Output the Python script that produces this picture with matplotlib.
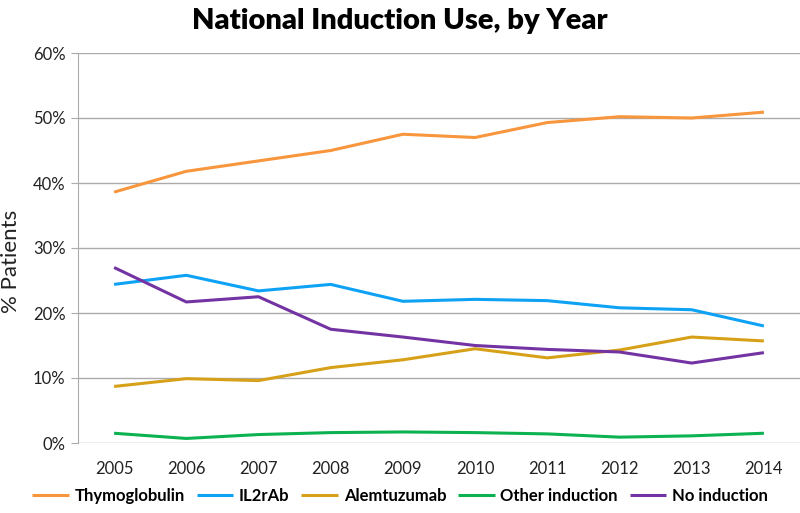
import matplotlib
matplotlib.use("Agg")
import matplotlib.pyplot as plt
from matplotlib.ticker import PercentFormatter

# data (% of patients)
years = ["2005", "2006", "2007", "2008", "2009", "2010", "2011", "2012", "2013", "2014"]
thymoglobulin = [38.6, 41.8, 43.4, 45.0, 47.5, 47.0, 49.3, 50.2, 50.0, 50.9]
il2rab = [24.4, 25.8, 23.4, 24.4, 21.8, 22.1, 21.9, 20.8, 20.5, 18.0]
alemtuzumab = [8.7, 9.9, 9.6, 11.6, 12.8, 14.5, 13.1, 14.3, 16.3, 15.7]
other_induction = [1.5, 0.7, 1.3, 1.6, 1.7, 1.6, 1.4, 0.9, 1.1, 1.5]
no_induction = [27.0, 21.7, 22.5, 17.5, 16.3, 15.0, 14.4, 14.0, 12.3, 13.9]

series = [
    ("Thymoglobulin", thymoglobulin, "#F7963C"),
    ("IL2rAb", il2rab, "#0EA2F5"),
    ("Alemtuzumab", alemtuzumab, "#D6A019"),
    ("Other induction", other_induction, "#0BB24F"),
    ("No induction", no_induction, "#7433A2"),
]

plt.rcParams['font.family'] = ['Lato', 'DejaVu Sans']

fig = plt.figure(figsize=(8, 5.13), dpi=100)
ax = fig.add_axes([78 / 800, 1 - 443 / 513, 1 - 78 / 800, (443 - 53) / 513])

x = list(range(len(years)))
for name, vals, color in series:
    ax.plot(x, vals, color=color, lw=2.2, label=name, solid_capstyle='butt')

ax.set_xlim(-0.5, len(years) - 0.5)
ax.set_ylim(0, 60)
ax.set_yticks(range(0, 61, 10))
ax.yaxis.set_major_formatter(PercentFormatter(decimals=0))
ax.set_xticks(x)
ax.set_xticklabels(years)
ax.grid(axis='y', color='#ABABAB', lw=1)
ax.set_axisbelow(True)
for s in ['top', 'right', 'bottom']:
    ax.spines[s].set_visible(False)
ax.spines['left'].set_color('#ABABAB')
ax.tick_params(axis='y', length=5, labelsize=12, pad=4, labelcolor='#222222', color='#ABABAB')
ax.tick_params(axis='x', length=0, labelsize=12, pad=13, labelcolor='#222222')

# y label placed by hand so it sits near the left edge like the original
fig.text(11 / 800, 1 - 261 / 513, '% Patients', rotation=90, fontsize=16,
         color='#222222', ha='center', va='center')

fig.suptitle('National Induction Use, by Year', fontsize=21, fontweight='heavy', x=0.5, y=0.985)

fig.legend(loc='lower center', bbox_to_anchor=(0.5, -0.012), ncol=5, frameon=False,
           prop={'weight': 'bold', 'size': 12}, handlelength=2.2, handletextpad=0.35,
           columnspacing=0.7)

fig.savefig('out.png', dpi=100)
